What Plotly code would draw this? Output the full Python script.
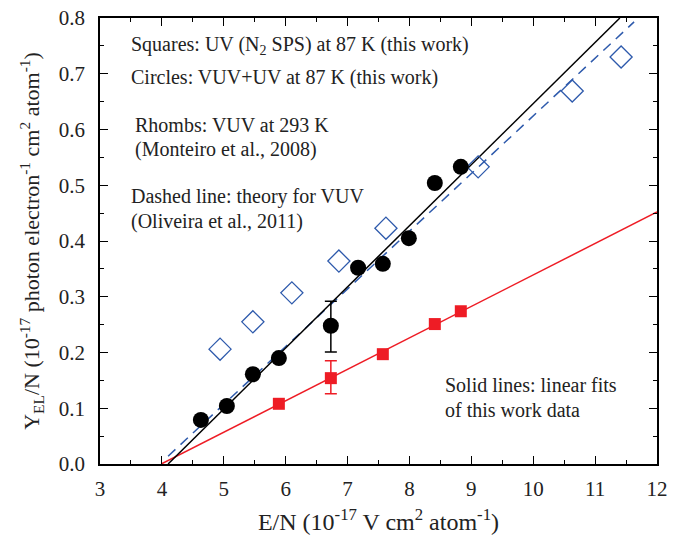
import plotly.graph_objects as go

# Circles: VUV+UV at 87 K (this work)
circ_x = [4.63, 5.05, 5.47, 5.89, 6.73, 7.17, 7.57, 7.99, 8.41, 8.83]
circ_y = [0.079, 0.104, 0.161, 0.190, 0.248, 0.352, 0.359, 0.405, 0.504, 0.533]
circ_err_x = [6.73]
circ_err_y = [0.248]
circ_err_plus = [0.044]
circ_err_minus = [0.047]

# Squares: UV (N2 SPS) at 87 K (this work)
sq_x = [5.89, 6.73, 7.57, 8.41, 8.83]
sq_y = [0.108, 0.154, 0.197, 0.251, 0.274]
sq_err_x = [6.73]
sq_err_y = [0.154]
sq_err_plus = [0.031]
sq_err_minus = [0.028]

# Rhombs: VUV at 293 K (Monteiro et al., 2008)
rh_x = [4.94, 5.47, 6.10, 6.86, 7.62, 9.11, 10.63, 11.42]
rh_y = [0.206, 0.255, 0.307, 0.364, 0.423, 0.533, 0.669, 0.730]

# linear fits (end points) and theory line
fit_black_x = [4.10, 11.40]
fit_black_y = [0.0, 0.8]
fit_red_x = [3.99, 12.0]
fit_red_y = [0.0, 0.452]
theory_x = [4.10, 11.63]
theory_y = [0.014, 0.793]

BLACK = '#000000'
RED = '#ee1c25'
BLUE = '#2e5aac'
TXT = '#222222'
FONT = '"Times New Roman", Times, "Liberation Serif", "DejaVu Serif", serif'

fig = go.Figure()

fig.add_trace(go.Scatter(x=theory_x, y=theory_y, mode='lines',
                         line=dict(color=BLUE, width=1.5, dash='10px,7px')))
fig.add_trace(go.Scatter(x=fit_red_x, y=fit_red_y, mode='lines',
                         line=dict(color=RED, width=1.5)))
fig.add_trace(go.Scatter(x=fit_black_x, y=fit_black_y, mode='lines',
                         line=dict(color=BLACK, width=1.5)))

fig.add_trace(go.Scatter(x=rh_x, y=rh_y, mode='markers',
                         marker=dict(symbol='diamond-open', size=17, color=BLUE,
                                     line=dict(width=1.3, color=BLUE))))

fig.add_trace(go.Scatter(x=sq_err_x, y=sq_err_y, mode='markers',
                         marker=dict(size=1, color=RED),
                         error_y=dict(type='data', array=sq_err_plus, arrayminus=sq_err_minus,
                                      color=RED, thickness=1.5, width=6)))
fig.add_trace(go.Scatter(x=sq_x, y=sq_y, mode='markers',
                         marker=dict(symbol='square', size=12, color=RED)))

fig.add_trace(go.Scatter(x=circ_err_x, y=circ_err_y, mode='markers',
                         marker=dict(size=1, color=BLACK),
                         error_y=dict(type='data', array=circ_err_plus, arrayminus=circ_err_minus,
                                      color=BLACK, thickness=1.5, width=6)))
fig.add_trace(go.Scatter(x=circ_x, y=circ_y, mode='markers',
                         marker=dict(symbol='circle', size=16, color=BLACK)))

# positions in reference pixels (plot frame 100..657 x 18..464)
notes = [
    (129, 46, 'Squares: UV (N<sub>2</sub> SPS) at 87 K (this work)'),
    (129, 77, 'Circles: VUV+UV at 87 K (this work)'),
    (133, 125, 'Rhombs: VUV at 293 K'),
    (133, 149, '(Monteiro et al., 2008)'),
    (129, 196, 'Dashed line: theory for VUV'),
    (129, 221, '(Oliveira et al., 2011)'),
    (443, 385, 'Solid lines: linear fits'),
    (443, 410, 'of this work data'),
]
for px, py, txt in notes:
    fig.add_annotation(x=(px - 100) / 557, y=1 - (py - 18) / 446, xref='paper', yref='paper',
                       text=txt, showarrow=False, xanchor='left', yanchor='middle',
                       font=dict(family=FONT, size=20, color=TXT))

axis_common = dict(showline=True, linecolor=BLACK, linewidth=1.5, mirror='allticks',
                   ticks='inside', ticklen=8, tickwidth=1.3, tickcolor=BLACK,
                   showgrid=False, zeroline=False, ticklabeloverflow='allow',
                   tickfont=dict(family=FONT, size=21, color=TXT),
                   minor=dict(ticks='inside', ticklen=4, tickwidth=1, tickcolor=BLACK))

fig.update_layout(
    width=678, height=538,
    margin=dict(l=100, r=21, t=18, b=74, autoexpand=False),
    plot_bgcolor='white', paper_bgcolor='white',
    showlegend=False,
    font=dict(family=FONT),
    xaxis=dict(range=[3, 12], dtick=1, tick0=3, ticklabelstandoff=5,
               title=dict(text='E/N (10<sup>-17</sup> V cm<sup>2</sup> atom<sup>-1</sup>)',
                          font=dict(family=FONT, size=24, color=TXT), standoff=13),
               **axis_common),
    yaxis=dict(range=[0, 0.8], dtick=0.1, tickformat='.1f', ticklabelstandoff=9,
               title=dict(text='Y<sub>EL</sub>/N (10<sup>-17</sup> photon electron<sup>-1</sup> cm<sup>2</sup> atom<sup>-1</sup>)',
                          font=dict(family=FONT, size=22, color=TXT), standoff=13),
               **axis_common),
)
fig.update_xaxes(minor=dict(dtick=0.5))
fig.update_yaxes(minor=dict(dtick=0.05))

# page body margin would offset the figure by 8px
fig.write_html("out.html", config={'displayModeBar': False},
               post_script="document.body.style.margin='0px';")
